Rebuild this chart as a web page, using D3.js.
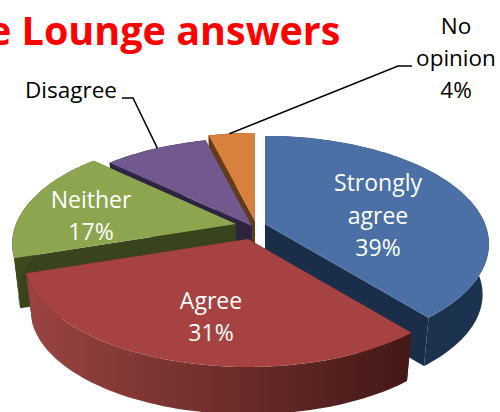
<!DOCTYPE html>
<html><head><meta charset="utf-8">
<script src="https://cdn.jsdelivr.net/npm/d3@7"></script>
<style>html,body{margin:0;padding:0;background:#fff}svg{display:block}text{font-family:"Open Sans","Noto Sans",sans-serif}</style>
</head><body><svg id="c" width="500" height="412"></svg>
<script>
const categories = ["Strongly agree","Agree","Neither","Disagree","No opinion"];
const values = [39,31,17,9,4];
const titleText = "e Lounge answers";
const topColors = ["#4a70a6","#a64241","#8ba64e","#71588f","#d8813e"];
const cutColors = ["#1a2e49","#4a1b19","#3a441c","#2e2340","#633b17"];
const rimColors = [["#1a2e49","#1c3350"],["#9a4442","#431816"],["#3e4a1e","#3a441c"],["#2e2340","#2e2340"],["#633b17","#633b17"]];
const apexX = [265,248,236,252,255];
const apexY = [224,239,224,226,221];
const labelLines = [["Strongly","agree","39%"],["Agree","31%"],["Neither","17%"],["Disagree"],["No","opinion","4%"]];
const labelX = [378,211,91,71,456];
const labelY = [191,309,208,98,34];
const labelStep = [32.5,32,31.5,0,32];
const labelSize = [23,23,23,22.5,22.5];
const labelFill = ["#fff","#fff","#fff","#000","#000"];
const leaderFraction = [0.52,0.45];

const R=220, Ry=104.3, k=0.185, depth=51, shrink=0.972;
const svg=d3.select("#c");
const pie=d3.pie().sort(null).startAngle(0).endAngle(2*Math.PI);
const arcs=pie(values);
function proj(i,a,r,low){
  const X=Math.sin(a)*r, Y=-Math.cos(a)*r, s=1/(1-k*Y), f=low?shrink:1;
  return [apexX[i]+R*X*s*f, apexY[i]+Ry*Y*s*f+(low?depth:0)];
}
const line=d3.line();
const defs=svg.append("defs");
rimColors.forEach((c,i)=>{
  const g=defs.append("linearGradient").attr("id","rim"+i);
  g.append("stop").attr("offset","0%").attr("stop-color",c[0]);
  g.append("stop").attr("offset","100%").attr("stop-color",c[1]);
});
[4,3,2,0,1].forEach(i=>{
  const d=arcs[i];
  const n=Math.max(8,Math.round((d.endAngle-d.startAngle)*40));
  const as=d3.range(n+1).map(j=>d.startAngle+(d.endAngle-d.startAngle)*j/n);
  const topArc=as.map(a=>proj(i,a,1,false));
  const lowArc=as.map(a=>proj(i,a,1,true));
  const g=svg.append("g");
  [d.startAngle,d.endAngle].forEach(a=>{
    g.append("path").attr("fill",cutColors[i]).attr("d",line([proj(i,a,0,false),proj(i,a,1,false),proj(i,a,1,true),proj(i,a,0,true)])+"Z");
  });
  g.append("path").attr("fill",`url(#rim${i})`).attr("d",line(topArc.concat(lowArc.slice().reverse()))+"Z");
  g.append("path").attr("fill",topColors[i]).attr("d",line([proj(i,0,0,false)].concat(topArc))+"Z");
});
const leaderA=[[122,98],[133,98]], leaderB=[[412,66],[398,66]];
function rimAt(i,f){return proj(i,arcs[i].startAngle+(arcs[i].endAngle-arcs[i].startAngle)*f,1,false);}
svg.append("path").attr("fill","none").attr("stroke","#000").attr("stroke-width",1.5)
  .attr("d",line(leaderA.concat([rimAt(3,leaderFraction[0])])));
svg.append("path").attr("fill","none").attr("stroke","#000").attr("stroke-width",1.5)
  .attr("d",line(leaderB.concat([rimAt(4,leaderFraction[1])])));
categories.forEach((c,i)=>{
  const t=svg.append("text").attr("text-anchor","middle").attr("font-size",labelSize[i]).attr("fill",labelFill[i]);
  labelLines[i].forEach((s,j)=>t.append("tspan").attr("x",labelX[i]).attr("y",labelY[i]+j*labelStep[i]).text(s));
});
svg.append("text").attr("x",-12).attr("y",45).attr("font-size",39.5).attr("font-weight",700).attr("fill","#f00").text(titleText);
</script></body></html>
